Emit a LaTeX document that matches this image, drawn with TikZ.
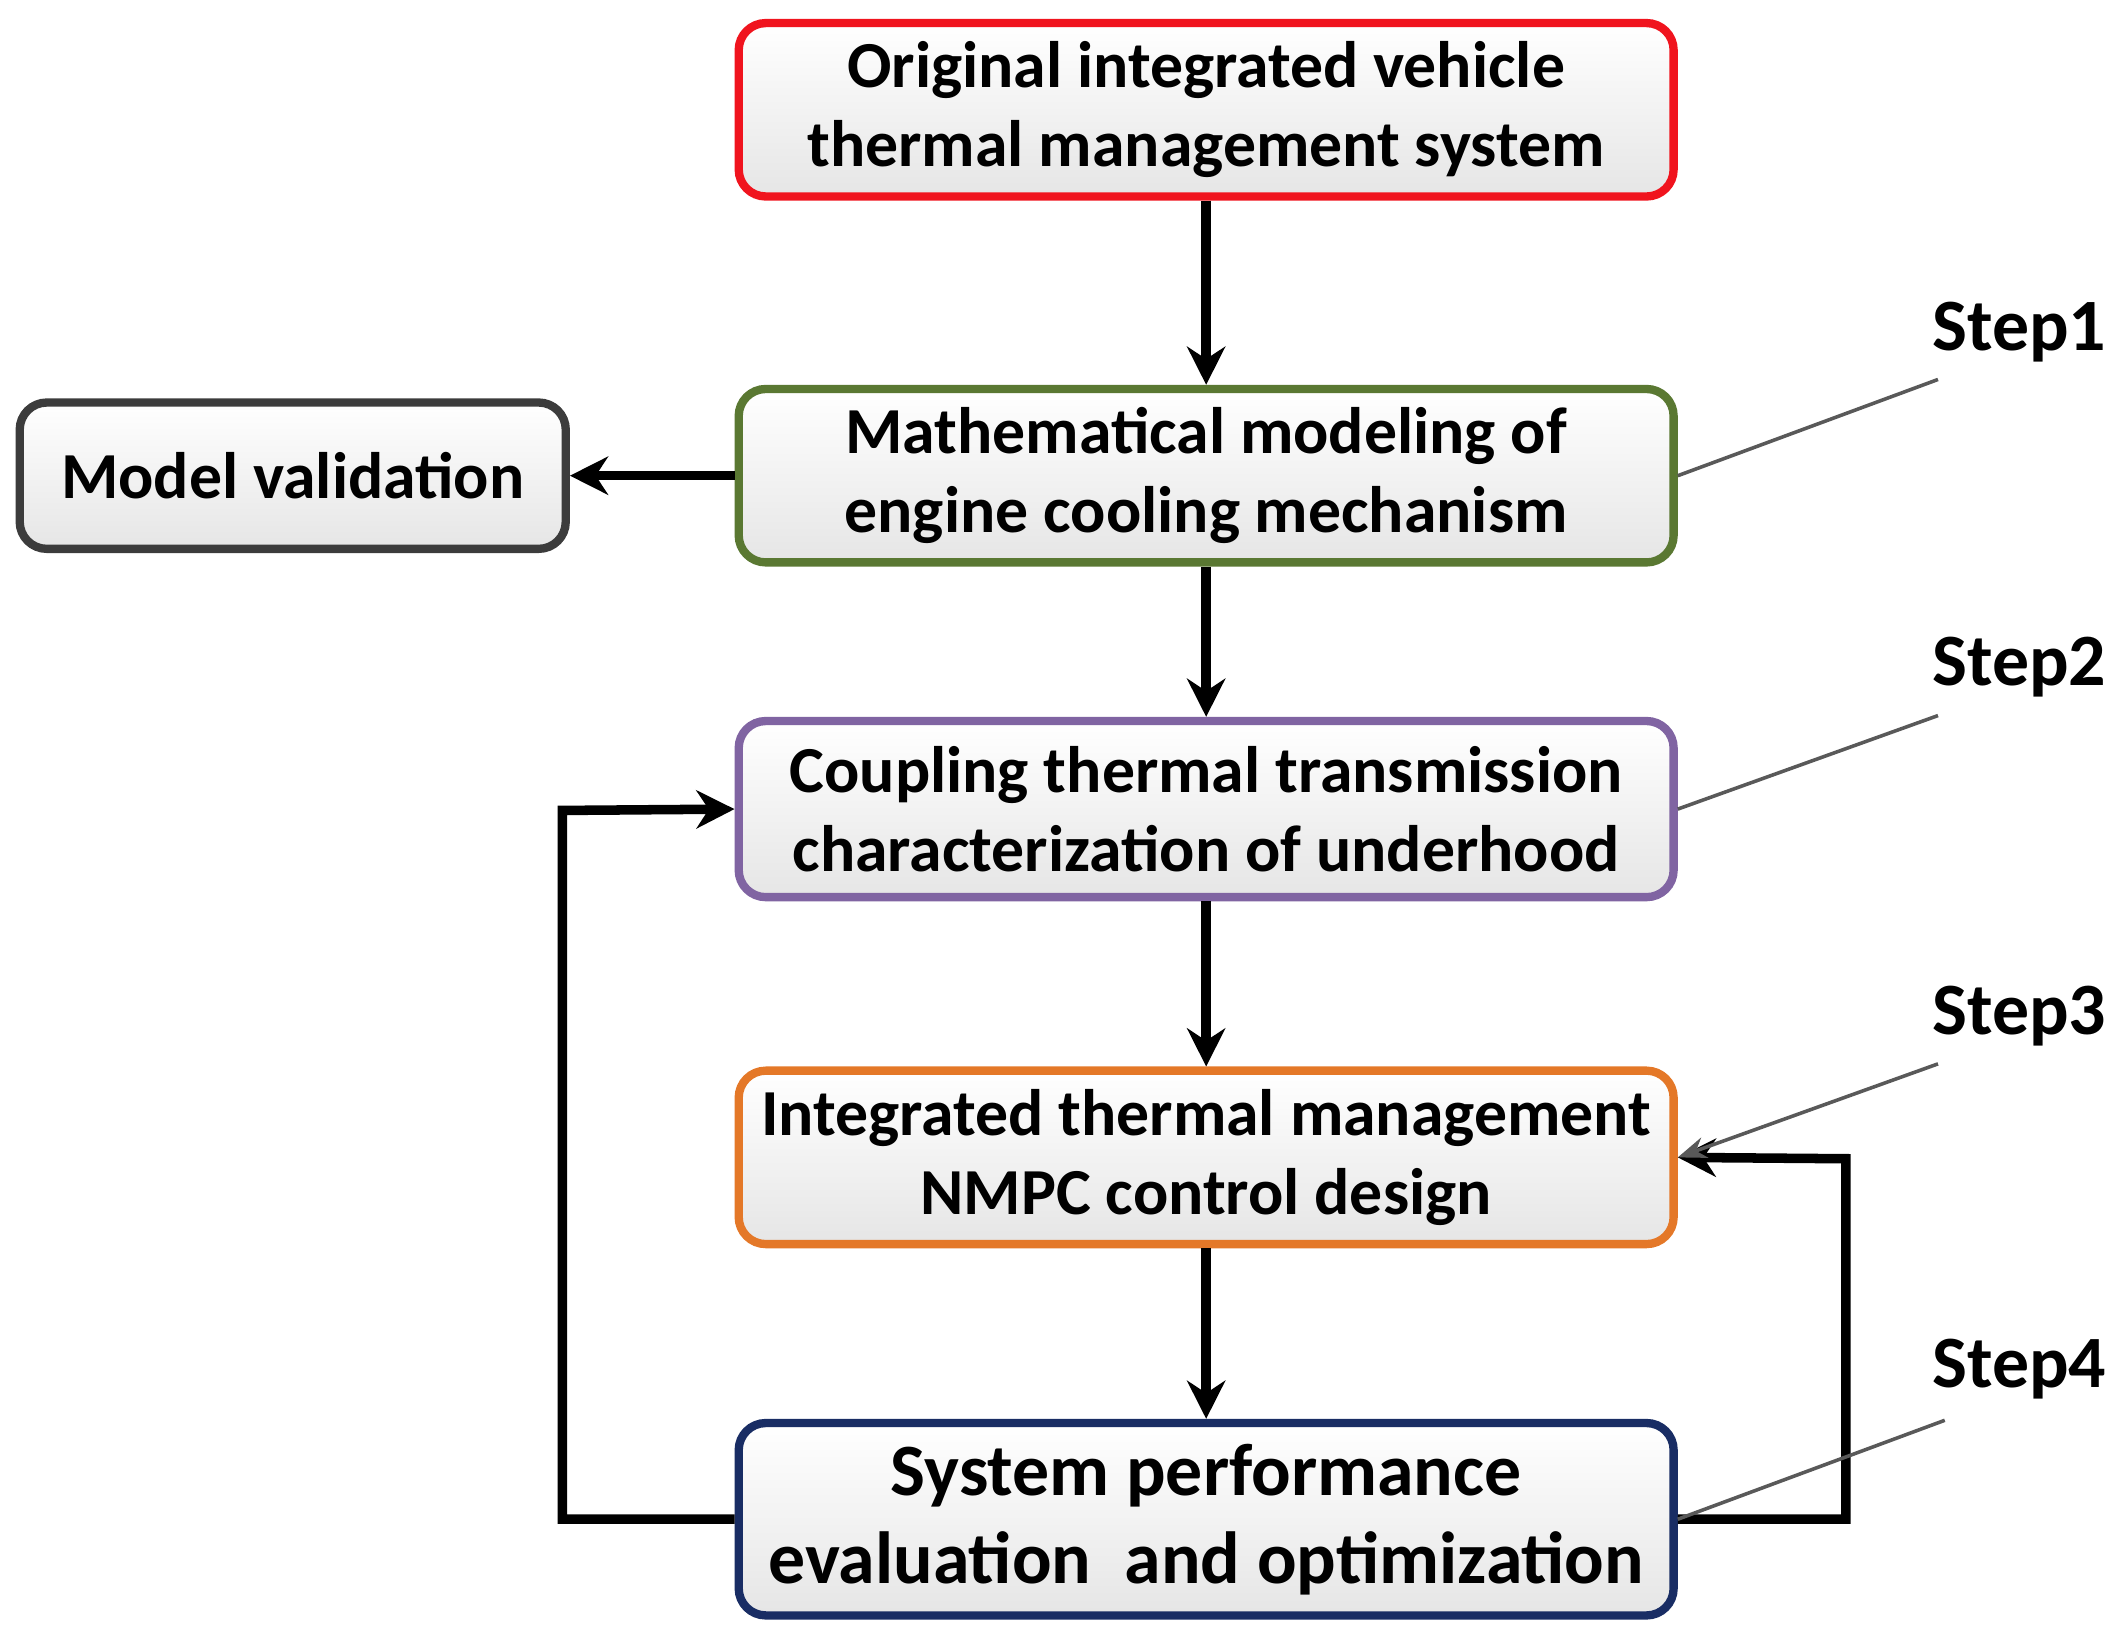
\documentclass[tikz,border=0pt]{standalone}
\usepackage{fontspec}
\setmainfont{Carlito}
\usetikzlibrary{arrows.meta}
\definecolor{cRed}{RGB}{240,20,30}
\definecolor{cGreen}{RGB}{90,120,50}
\definecolor{cGray}{RGB}{60,60,60}
\definecolor{cPurple}{RGB}{128,100,162}
\definecolor{cOrange}{RGB}{228,120,40}
\definecolor{cBlue}{RGB}{25,45,100}
\begin{document}
\begin{tikzpicture}[x=0.02cm,y=-0.02cm,
 box/.style={draw=#1,line width=3.5pt,rounded corners=0.4cm,top color=white,bottom color=black!10,
   minimum width=13.8cm,minimum height=2.56cm,align=center,font=\fontsize{27.6}{33}\selectfont\bfseries,inner sep=0pt},
 arr/.style={line width=4pt,-{Stealth[length=16pt,width=16pt]}},
 lead/.style={draw=black!65,line width=1.5pt},
 stp/.style={font=\fontsize{31}{34}\selectfont\bfseries}]
\useasboundingbox (0,0) rectangle (1568,1210);
\node[box=cRed] (a) at (890,81) {Original integrated vehicle\\thermal management system};
\node[box=cGreen] (b) at (890,351) {Mathematical modeling of\\engine cooling mechanism};
\node[box=cGray,minimum width=8.06cm,minimum height=2.16cm] (m) at (216,351) {Model validation};
\node[box=cPurple,minimum height=2.6cm] (c) at (890,597) {Coupling thermal transmission\\characterization of underhood};
\node[box=cOrange] (d) at (890,854) {Integrated thermal management\\NMPC control design};
\node[box=cBlue,minimum height=2.84cm,font=\fontsize{31}{37}\selectfont\bfseries] (e) at (890,1121) {System performance\\evaluation\ \ and optimization};
\draw[arr] (a) -- (b);
\draw[arr] (b) -- (m);
\draw[arr] (b) -- (c);
\draw[arr] (c) -- (d);
\draw[arr] (d) -- (e);
\coordinate (l1) at (415,1121); \coordinate (l2) at (415,598);
\draw[arr] (e.west) -- (l1) -- (l2) -- (c.west);
\coordinate (r1) at (1362,1121); \coordinate (r2) at (1362,855);
\draw[arr] (e.east) -- (r1) -- (r2) -- (d.east);
\node[stp] (s1) at (1490,245) {Step1};
\node[stp] (s2) at (1490,492) {Step2};
\node[stp] (s3) at (1490,750) {Step3};
\node[stp] (s4) at (1490,1010) {Step4};
\coordinate (t1) at (1430,280); \coordinate (t2) at (1430,528);
\coordinate (t3) at (1430,785); \coordinate (t4) at (1435,1048);
\draw[lead] (t1) -- (b.east);
\draw[lead] (t2) -- (c.east);
\draw[lead,-{Stealth[length=12pt,width=9pt]}] (t3) -- (d.east);
\draw[lead] (t4) -- (e.east);
\end{tikzpicture}
\end{document}
